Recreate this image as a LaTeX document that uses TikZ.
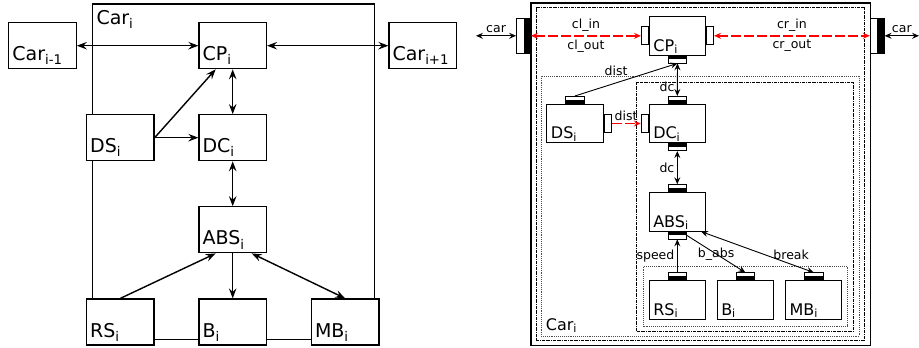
\documentclass[tikz,border=0pt]{standalone}
\usepackage{fontspec}
\setmainfont{DejaVu Sans}
\usetikzlibrary{arrows.meta,positioning,calc}
\begin{document}
\begin{tikzpicture}[x=1pt,y=-1pt,
  bigf/.style={font=\fontsize{19}{21}\selectfont},
  medf/.style={font=\fontsize{16}{18}\selectfont},
  smf/.style={font=\fontsize{12.5}{14}\selectfont, inner sep=1.5pt},
  lb/.style={draw, line width=1.2pt, fill=white, minimum width=67.5pt, minimum height=46pt, inner sep=0pt,
    label={[bigf, anchor=base west, inner sep=0pt, xshift=4pt, yshift=8.5pt]south west:#1}},
  rb/.style={draw, line width=1pt, fill=white, minimum width=56.5pt, minimum height=38.5pt, inner sep=0pt,
    label={[medf, anchor=base west, inner sep=0pt, xshift=4.5pt, yshift=4.5pt]south west:#1}},
  ptop/.style={draw, line width=0.8pt, fill=white, minimum width=18.5pt, minimum height=7pt, inner sep=0pt, anchor=south},
  pbot/.style={draw, line width=0.8pt, fill=white, minimum width=18.5pt, minimum height=7pt, inner sep=0pt, anchor=north},
  pside/.style={draw, line width=0.8pt, fill=white, minimum width=7pt, minimum height=18pt, inner sep=0pt},
  pcar/.style={draw, line width=0.8pt, fill=white, minimum width=14pt, minimum height=35pt, inner sep=0pt},
  frm/.style={draw, inner sep=0pt, anchor=north west},
  dashdot/.style={line width=0.6pt, dash pattern=on 3pt off 1pt on 0.6pt off 1pt},
  dotline/.style={line width=0.7pt, dash pattern=on 0.7pt off 1.2pt, black!70},
  la/.style={line width=1.4pt},
  ra/.style={line width=0.9pt},
  rd/.style={draw=red, line width=1.6pt, dash pattern=on 10pt off 3pt},
]
\useasboundingbox (0,0) rectangle (919,348);

% ---------------- left diagram ----------------
\begin{scope}[>={Stealth[length=10pt,width=7.5pt,inset=3.5pt]}]
\node[frm, line width=1.2pt, minimum width=282.3pt, minimum height=335.7pt] (carL) at (91.7,3.3) {};
\node[bigf, anchor=base west, inner sep=0pt] (carLl) at (96.3,24) {Car\textsubscript{i}};
\node[lb={Car\textsubscript{i-1}}] (Cm) at (42.5,45.7) {};
\node[lb={CP\textsubscript{i}}] (CP) at (232.7,45.7) {};
\node[lb={Car\textsubscript{i+1}}] (Cp) at (422.7,45.7) {};
\node[lb={DS\textsubscript{i}}] (DS) at (120.3,137.7) {};
\node[lb={DC\textsubscript{i}}] (DC) at (232.7,137.7) {};
\node[lb={ABS\textsubscript{i}}] (ABS) at (232.7,229.8) {};
\node[lb={RS\textsubscript{i}}] (RS) at (120.3,322) {};
\node[lb={B\textsubscript{i}}] (B) at (232.7,322) {};
\node[lb={MB\textsubscript{i}}] (MB) at (345.2,322) {};

\draw[la,<->] (Cm.east) -- (CP.west);
\draw[la,<->] (CP.east) -- (Cp.west);
\draw[la,<->] (CP.south) -- (DC.north);
\draw[la,->] (DS.east) -- (DC.west);
\draw[la,->] (DS.east) -- ([xshift=-17pt]CP.south);
\draw[la,<->] (DC.south) -- (ABS.north);
\draw[la,->] (ABS.south) -- (B.north);
\draw[la,->] (RS.north) -- ([xshift=-17pt]ABS.south);
\draw[la,<->] ([xshift=19pt]ABS.south) -- (MB.north);
\end{scope}

% ---------------- right diagram ----------------
\begin{scope}[>={Stealth[length=7pt,width=6pt,inset=2.5pt]}]
\node[frm, line width=1.2pt, minimum width=339.7pt, minimum height=342.2pt] (carR) at (530.3,2.3) {};
\node[frm, dashdot, minimum width=328.6pt, minimum height=332.7pt] (frA) at (535.7,7.3) {};
\node[frm, dotline, minimum width=318.3pt, minimum height=260.2pt] (frB) at (540.7,75.5) {};
\node[frm, dashdot, minimum width=217pt, minimum height=249.5pt] (frC) at (636.3,81.5) {};
\node[frm, dotline, minimum width=203.4pt, minimum height=60pt] (frD) at (643.3,265.7) {};
\node[medf, anchor=base west, inner sep=0pt] (carRl) at (545.7,330) {Car\textsubscript{i}};

\node[rb={CP\textsubscript{i}}] (rCP) at (677.5,35.8) {};
\node[rb={DS\textsubscript{i}}] (rDS) at (575,123.5) {};
\node[rb={DC\textsubscript{i}}] (rDC) at (677.3,123.5) {};
\node[rb={ABS\textsubscript{i}}] (rABS) at (677.3,211.8) {};
\node[rb={RS\textsubscript{i}}] (rRS) at (677.3,300) {};
\node[rb={B\textsubscript{i}}] (rB) at (745.3,300) {};
\node[rb={MB\textsubscript{i}}] (rMB) at (813.7,300) {};

\node[pside, anchor=east] (pCPl) at (rCP.west) {};
\node[pside, anchor=west] (pCPr) at (rCP.east) {};
\node[pbot] (pCPb) at (rCP.south) {};
\node[ptop] (pDSt) at (rDS.north) {};
\node[pside, anchor=west] (pDSr) at (rDS.east) {};
\node[ptop] (pDCt) at (rDC.north) {};
\node[pside, anchor=east] (pDCl) at (rDC.west) {};
\node[pbot] (pDCb) at (rDC.south) {};
\node[ptop] (pABSt) at (rABS.north) {};
\node[pbot] (pABSb) at (rABS.south) {};
\node[ptop] (pRSt) at (rRS.north) {};
\node[ptop] (pBt) at (rB.north) {};
\node[ptop] (pMBt) at (rMB.north) {};
\node[pcar] (pL) at (523.5,35.8) {};
\node[pcar] (pR) at (877.2,35.8) {};

% black halves of the ports
\foreach \p in {pDSt,pDCt,pABSt,pRSt,pBt,pMBt}
  \fill[black] (\p.south west) rectangle (\p.east);
\foreach \p in {pCPb,pDCb,pABSb}
  \fill[black] (\p.north west) rectangle (\p.east);
\foreach \p in {pL,pR}
  \fill[black] (\p.north) rectangle (\p.south east);

\coordinate (eL) at (476,35.8);
\coordinate (eR) at (919,35.8);
\draw[ra,<->] (eL) -- node[above=1pt, smf] {car} (pL.west);
\draw[ra,<->] (pR.east) -- node[above=1pt, smf] {car} (eR);
\path (pL.east) -- node[above=2.5pt, smf] {cl\_in} node[below=2.5pt, smf] {cl\_out} (pCPl.west);
\path (pCPr.east) -- node[above=2.5pt, smf] {cr\_in} node[below=2.5pt, smf] {cr\_out} (pR.west);
\draw[ra,->] (pDSt.north) -- node[pos=0.4, above=5pt, smf] {dist} (pCPb.south);
\draw[ra,<->] (pCPb.south) -- node[pos=0.72, left=1pt, smf] {dc} (pDCt.north);
\path (pDSr.east) -- node[above=1pt, smf] {dist} (pDCl.west);
\draw[ra,<->] (pDCb.south) -- node[left=1pt, smf] {dc} (pABSt.north);
\draw[ra,->] (pRSt.north) -- node[left=1pt, smf] {speed} (pABSb.south);
\draw[ra,->] (pABSb.east) -- node[smf] {b\_abs} (pBt.north);
\draw[ra,<->] ([xshift=-5pt]rABS.south east) -- node[pos=0.8, above=3pt, smf] {break} (pMBt.north);

\begin{scope}[red, >={Stealth[length=7pt,width=6pt,inset=2.5pt,red]}]
\draw[rd,<->] (pL.east) -- (pCPl.west);
\draw[rd,<->] (pCPr.east) -- (pR.west);
\draw[rd,->] (pDSr.east) -- (pDCl.west);
\end{scope}
\end{scope}
\end{tikzpicture}
\end{document}
